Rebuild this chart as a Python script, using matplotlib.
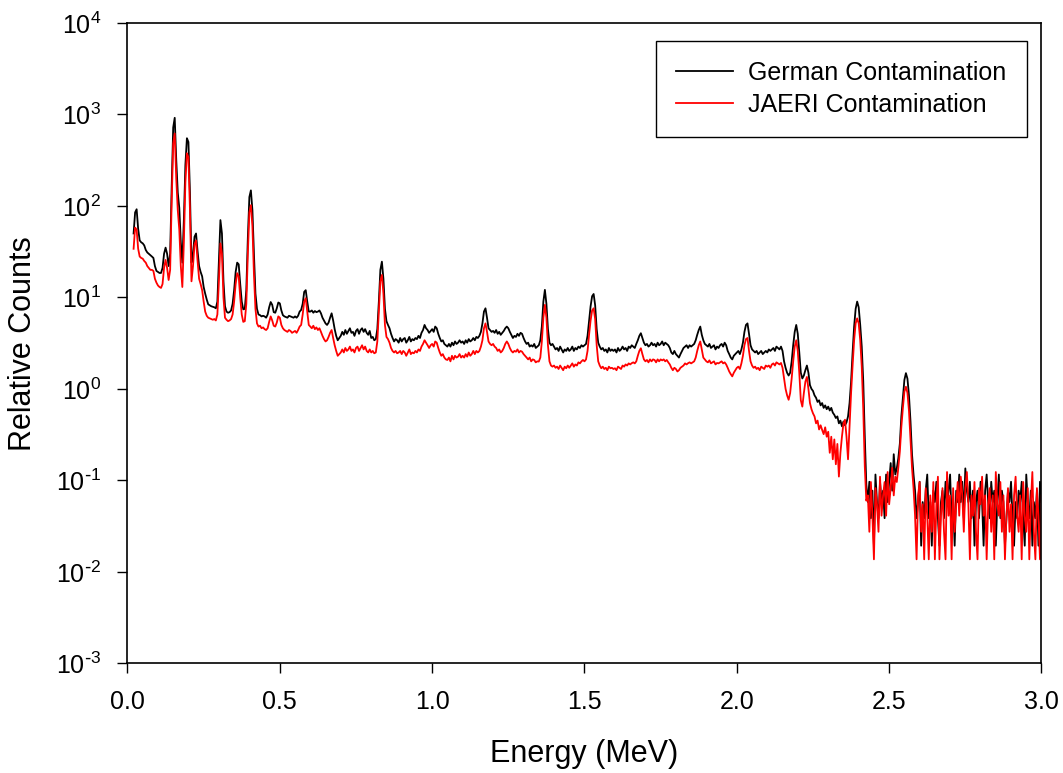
import numpy as np
import matplotlib
matplotlib.use("Agg")
import matplotlib.pyplot as plt
from matplotlib.ticker import FixedLocator, FuncFormatter, NullLocator

plt.rcParams['font.family'] = ['Liberation Sans', 'DejaVu Sans']
plt.rcParams['mathtext.default'] = 'regular'

# Spectra are stored channel by channel, 5 keV per channel.
CHANNEL_STEP = 0.005                               # MeV
SEGMENT_STARTS = [0.020, 0.600, 1.200, 1.800, 2.430]   # MeV, first channel of each block

# ---- German contamination (relative counts) ----
german_low = [
    50, 85, 92, 56, 42, 40, 39, 37, 33, 31,
    30, 29, 28, 27, 22, 19.5, 19, 18.5, 18.5, 21,
    30, 35, 30, 22, 30, 160, 720, 920, 320, 140,
    95, 40, 24, 70, 280, 550, 500, 140, 24, 30,
    46, 50, 32, 22, 19, 17, 13, 11, 9.5, 8.4,
    8.2, 8.0, 7.9, 7.8, 7.6, 9.0, 25, 70, 50, 15,
    8.0, 7.0, 6.8, 6.9, 7.2, 8.5, 12, 19, 24, 23,
    14, 9.0, 7.4, 7.5, 12, 45, 125, 148, 90, 30,
    11, 7.5, 6.5, 6.4, 6.2, 6.3, 6.2, 6.0, 6.5, 7.8,
    8.9, 8.3, 6.9, 6.8, 7.6, 8.8, 8.6, 7.2, 6.4, 6.2,
    6.1, 6.0, 6.3, 6.2, 6.1, 6.0, 6.2, 6.0, 6.3, 7.0,
    7.3, 8.5, 11.5, 12, 9.0, 7.0,
]
german_mid = [
    7.0, 7.2, 6.8, 7.1, 6.9, 7.0, 7.2, 6.7, 6.0, 5.6,
    5.2, 5.0, 5.3, 6.0, 6.7, 5.6, 4.5, 3.8, 3.4, 3.6,
    3.8, 4.2, 3.9, 4.4, 4.0, 4.3, 4.6, 4.1, 4.2, 3.8,
    4.3, 4.5, 4.0, 4.4, 4.6, 4.2, 4.5, 4.1, 3.9, 4.3,
    3.6, 3.7, 3.4, 3.5, 4.5, 9.0, 20, 24.6, 16, 7.5,
    5.5, 5.0, 4.6, 4.0, 3.6, 3.3, 3.5, 3.4, 3.2, 3.6,
    3.3, 3.5, 3.6, 3.2, 3.4, 3.7, 3.3, 3.5, 3.4, 3.6,
    3.5, 3.8, 3.6, 4.1, 4.4, 5.0, 4.6, 4.4, 4.1, 4.3,
    4.5, 4.2, 4.8, 4.6, 4.0, 3.6, 3.3, 3.4, 3.1, 3.0,
    2.9, 3.1, 2.9, 3.2, 3.0, 3.3, 3.1, 3.2, 3.4, 3.2,
    3.3, 3.1, 3.4, 3.2, 3.5, 3.3, 3.4, 3.6, 3.4, 3.7,
    3.6, 3.8, 4.2, 5.2, 7.0, 7.6, 6.0, 4.6, 4.4, 4.2,
]
german_upper = [
    4.3, 4.1, 4.4, 4.0, 4.2, 3.9, 4.1, 4.3, 4.6, 4.8,
    4.6, 4.2, 3.9, 3.6, 3.8, 3.7, 4.0, 3.8, 4.1, 4.0,
    3.6, 3.3, 3.1, 3.2, 2.9, 3.0, 2.9, 3.1, 2.8, 2.9,
    3.0, 3.4, 4.8, 9.0, 12.1, 8.5, 4.5, 3.2, 3.0, 3.1,
    2.9, 2.7, 2.8, 2.6, 2.9, 2.7, 2.5, 2.7, 2.6, 2.8,
    2.6, 2.7, 2.9, 2.6, 2.8, 2.7, 2.9, 2.8, 3.0, 2.9,
    3.0, 3.1, 3.8, 5.5, 8.0, 10.3, 10.9, 8.2, 4.5, 3.2,
    2.9, 2.7, 2.8, 2.6, 2.7, 2.5, 2.8, 2.6, 2.7, 2.6,
    2.7, 2.5, 2.8, 2.6, 2.7, 2.9, 2.7, 2.8, 2.6, 2.9,
    2.8, 3.0, 2.9, 2.8, 3.1, 3.4, 3.8, 4.06, 3.6, 3.2,
    3.0, 3.1, 2.9, 3.0, 3.2, 3.0, 3.1, 2.9, 3.2, 3.0,
    3.1, 3.3, 3.0, 3.2, 3.1, 3.0, 2.8, 2.5, 2.4, 2.6,
]
german_high = [
    2.4, 2.3, 2.2, 2.4, 2.6, 2.8, 2.9, 3.0, 2.8, 3.0,
    2.9, 3.0, 3.1, 3.4, 3.9, 4.4, 4.8, 3.9, 3.4, 3.1,
    3.0, 2.9, 3.1, 2.8, 2.9, 3.0, 2.7, 2.9, 2.8, 3.0,
    3.1, 2.9, 3.2, 3.0, 2.6, 2.4, 2.2, 2.1, 2.3, 2.4,
    2.5, 2.6, 2.4, 2.7, 3.2, 4.2, 5.0, 5.2, 4.0, 3.0,
    2.7, 2.6, 2.5, 2.6, 2.4, 2.5, 2.6, 2.4, 2.5, 2.6,
    2.5, 2.7, 2.6, 2.7, 2.8, 2.6, 2.9, 2.8, 2.7, 2.9,
    2.6, 2.0, 1.7, 1.5, 1.4, 1.5, 2.0, 3.0, 4.2, 5.0,
    4.0, 2.5, 1.5, 1.3, 1.4, 1.6, 1.8, 1.5, 1.1, 1.0,
    0.95, 0.85, 0.80, 0.72, 0.75, 0.66, 0.70, 0.62, 0.66, 0.60,
    0.64, 0.58, 0.62, 0.55, 0.52, 0.48, 0.50, 0.42, 0.45, 0.39,
    0.44, 0.40, 0.43, 0.50, 0.70, 1.2, 2.5, 4.8, 7.5, 9.0,
    7.8, 5.0, 2.9, 1.2, 0.30, 0.09,
]
# above 2.43 MeV the spectrum is stored as raw counts
GERMAN_TAIL_UNIT = 0.0193
german_tail_counts = [
    3, 5, 2, 4, 1, 6, 3, 2, 5, 3,
    4, 2, 6, 3, 5, 8, 4, 10, 6, 7,
    9, 13, 26, 41, 65, 77, 67, 44, 23, 10,
    6, 4, 2, 3, 5, 1, 3, 2, 4, 6,
    2, 3, 1, 4, 3, 5, 2, 1, 3, 4,
    2, 5, 3, 4, 6, 2, 3, 1, 4, 3,
    6, 3, 5, 2, 7, 4, 3, 5, 2, 4,
    1, 3, 4, 2, 5, 3, 1, 4, 6, 3,
    2, 5, 3, 4, 1, 3, 6, 2, 4, 3,
    1, 2, 4, 3, 5, 2, 1, 3, 2, 4,
    3, 5, 2, 1, 6, 3, 2, 4, 1, 3,
    2, 4, 1, 5, 3,
]

# ---- JAERI contamination (relative counts) ----
jaeri_low = [
    34, 58, 55, 34, 28, 27, 26.5, 25, 24, 22,
    21, 20, 20, 19.5, 16, 14.5, 13.5, 13, 12.7, 14,
    21, 25.7, 21, 15.5, 20, 110, 480, 620, 200, 90,
    55, 22, 13, 40, 180, 377, 340, 90, 15, 22,
    38, 42, 25, 16, 14, 12, 9.0, 7.0, 6.3, 6.0,
    5.9, 5.8, 5.7, 5.8, 5.6, 6.5, 15, 39, 30, 10,
    6.0, 5.7, 5.5, 5.6, 5.8, 6.5, 9.0, 14, 18.4, 17,
    10, 6.5, 5.4, 5.5, 8.5, 30, 85, 102, 60, 18,
    7.5, 5.2, 4.8, 4.9, 4.6, 4.7, 4.5, 4.4, 4.6, 5.4,
    6.2, 5.6, 4.9, 4.8, 5.3, 6.2, 6.0, 5.0, 4.6, 4.4,
    4.3, 4.2, 4.4, 4.3, 4.1, 4.2, 4.3, 4.1, 4.4, 4.8,
    5.0, 6.5, 9.0, 9.8, 7.0, 5.0,
]
jaeri_mid = [
    4.8, 4.6, 4.9, 4.5, 4.7, 4.4, 4.6, 4.2, 3.8, 3.5,
    3.3, 3.4, 3.7, 4.1, 4.4, 3.6, 3.0, 2.6, 2.3, 2.4,
    2.5, 2.7, 2.5, 2.8, 2.6, 2.7, 2.9, 2.6, 2.7, 2.5,
    2.8, 2.9, 2.6, 2.8, 3.0, 2.7, 2.9, 2.6, 2.5, 2.7,
    2.5, 2.6, 2.45, 2.5, 3.3, 7.0, 15, 17.6, 11, 5.0,
    3.7, 3.5, 3.2, 2.8, 2.6, 2.5, 2.6, 2.45, 2.5, 2.6,
    2.4, 2.6, 2.5, 2.3, 2.5, 2.7, 2.4, 2.5, 2.45, 2.6,
    2.5, 2.7, 2.6, 2.9, 3.1, 3.4, 3.2, 3.0, 2.8, 3.0,
    3.1, 2.9, 3.3, 3.2, 2.8, 2.5, 2.3, 2.4, 2.2, 2.1,
    2.07, 2.2, 2.0, 2.3, 2.1, 2.3, 2.2, 2.25, 2.4, 2.2,
    2.3, 2.2, 2.4, 2.25, 2.5, 2.3, 2.4, 2.6, 2.4, 2.6,
    2.5, 2.6, 2.9, 3.4, 4.6, 5.2, 4.2, 3.3, 3.1, 3.0,
]
jaeri_upper = [
    3.1, 2.9, 2.8, 2.6, 2.7, 2.5, 2.6, 2.8, 3.1, 3.3,
    3.1, 2.8, 2.6, 2.5, 2.6, 2.55, 2.7, 2.5, 2.6, 2.55,
    2.4, 2.3, 2.2, 2.1, 2.2, 2.0, 2.1, 2.07, 1.95, 2.0,
    1.99, 2.2, 3.3, 6.0, 8.3, 6.0, 3.0, 2.0, 1.8, 1.75,
    1.8, 1.7, 1.75, 1.65, 1.8, 1.7, 1.6, 1.75, 1.68, 1.8,
    1.7, 1.8, 1.9, 1.75, 1.85, 1.8, 1.95, 1.9, 2.0, 2.07,
    2.0, 2.1, 2.6, 3.9, 5.6, 7.2, 7.6, 5.8, 3.0, 2.0,
    1.8, 1.68, 1.75, 1.65, 1.7, 1.6, 1.75, 1.68, 1.7, 1.65,
    1.68, 1.6, 1.75, 1.7, 1.65, 1.8, 1.75, 1.85, 1.8, 1.9,
    1.85, 1.91, 1.95, 1.9, 2.0, 2.3, 2.6, 2.78, 2.4, 2.1,
    2.0, 2.07, 1.95, 2.1, 2.0, 2.1, 2.07, 1.95, 2.1, 2.0,
    2.1, 2.05, 2.1, 2.0, 2.07, 1.95, 1.85, 1.7, 1.6, 1.7,
]
jaeri_high = [
    1.65, 1.55, 1.6, 1.7, 1.75, 1.8, 1.9, 1.85, 1.91, 1.95,
    1.9, 1.95, 2.0, 2.2, 2.6, 3.0, 3.3, 2.7, 2.2, 2.1,
    2.0, 1.95, 2.05, 1.9, 1.95, 2.0, 1.85, 1.92, 1.9, 1.95,
    2.0, 1.9, 1.95, 1.85, 1.7, 1.55, 1.45, 1.37, 1.5, 1.6,
    1.7, 1.75, 1.65, 1.9, 2.3, 3.0, 3.5, 3.6, 2.6, 2.0,
    1.8, 1.7, 1.75, 1.65, 1.7, 1.6, 1.75, 1.7, 1.65, 1.8,
    1.75, 1.8, 1.7, 1.85, 1.9, 1.8, 1.95, 1.9, 1.85, 1.92,
    1.7, 1.3, 1.0, 0.85, 0.76, 0.9, 1.3, 2.0, 2.9, 3.4,
    2.6, 1.5, 0.75, 0.64, 0.9, 1.2, 1.35, 1.0, 0.7, 0.6,
    0.54, 0.5, 0.42, 0.45, 0.36, 0.4, 0.356, 0.32, 0.38, 0.3,
    0.34, 0.2, 0.3, 0.17, 0.28, 0.15, 0.25, 0.11, 0.2, 0.3,
    0.42, 0.46, 0.3, 0.17, 0.4, 0.9, 1.8, 3.4, 5.2, 5.9,
    5.2, 3.4, 1.75, 0.6, 0.142, 0.06,
]
JAERI_TAIL_UNIT = 0.0137
jaeri_tail_counts = [
    5, 2, 7, 3, 1, 6, 4, 2, 8, 3,
    5, 7, 3, 9, 4, 6, 10, 5, 8, 7,
    10, 15, 28, 45, 68, 77, 66, 42, 20, 10,
    6, 3, 1, 5, 7, 2, 4, 1, 6, 3,
    1, 5, 2, 7, 1, 4, 8, 1, 3, 6,
    2, 1, 9, 3, 5, 1, 6, 2, 4, 7,
    3, 8, 5, 2, 6, 9, 4, 1, 5, 3,
    7, 2, 1, 6, 4, 8, 3, 5, 1, 4,
    6, 2, 5, 1, 9, 4, 3, 7, 2, 5,
    1, 3, 6, 2, 4, 1, 5, 8, 3, 2,
    5, 1, 7, 3, 2, 6, 1, 4, 9, 2,
    1, 6, 3, 1, 5,
]

SERIES_LABELS = ['German Contamination', 'JAERI Contamination']
X_TICKS = [0.0, 0.5, 1.0, 1.5, 2.0, 2.5, 3.0]
Y_EXPONENTS = [-3, -2, -1, 0, 1, 2, 3, 4]


def assemble(blocks):
    energies, counts = [], []
    for start, values in zip(SEGMENT_STARTS, blocks):
        values = np.asarray(values, dtype=float)
        energies.append(start + CHANNEL_STEP * np.arange(len(values)))
        counts.append(values)
    return np.concatenate(energies), np.concatenate(counts)


def power_label(value, pos):
    k = int(round(np.log10(value)))
    if k < 0:
        return r'$10^{\text{-}%d}$' % (-k)
    return r'$10^{%d}$' % k


german_e, german_y = assemble([
    german_low, german_mid, german_upper, german_high,
    np.asarray(german_tail_counts) * GERMAN_TAIL_UNIT,
])
jaeri_e, jaeri_y = assemble([
    jaeri_low, jaeri_mid, jaeri_upper, jaeri_high,
    np.asarray(jaeri_tail_counts) * JAERI_TAIL_UNIT,
])

fig = plt.figure(figsize=(10.63, 7.73), dpi=100)
ax = fig.add_axes([0.11994, 0.14192, 0.85983, 0.82833])

ax.plot(german_e, german_y, color='black', lw=1.3, label=SERIES_LABELS[0])
ax.plot(jaeri_e, jaeri_y, color='#ff0000', lw=1.3, label=SERIES_LABELS[1])

ax.set_xlim(0, 3.0)
ax.set_yscale('log')
ax.set_ylim(10.0 ** Y_EXPONENTS[0], 10.0 ** Y_EXPONENTS[-1])

ax.xaxis.set_major_locator(FixedLocator(X_TICKS))
ax.xaxis.set_major_formatter(FuncFormatter(lambda v, p: f'{v:.1f}'))
ax.yaxis.set_major_locator(FixedLocator([10.0 ** k for k in Y_EXPONENTS]))
ax.yaxis.set_major_formatter(FuncFormatter(power_label))
ax.yaxis.set_minor_locator(NullLocator())
ax.xaxis.set_minor_locator(NullLocator())

ax.tick_params(axis='both', direction='out', length=7, width=1.0,
               labelsize=18, pad=12, top=False, right=False)
for sp in ax.spines.values():
    sp.set_linewidth(1.2)

ax.set_xlabel('Energy (MeV)', fontsize=22, labelpad=18)
ax.set_ylabel('Relative Counts', fontsize=22, labelpad=13)

leg = ax.legend(loc='upper right', bbox_to_anchor=(0.9838, 0.9715),
                borderaxespad=0, frameon=True, fancybox=False,
                edgecolor='black', framealpha=1, fontsize=18,
                handlelength=2.27, handletextpad=0.61, borderpad=0.8,
                labelspacing=0.3)
leg.get_frame().set_linewidth(1.0)

fig.savefig('out.png', dpi=100)
